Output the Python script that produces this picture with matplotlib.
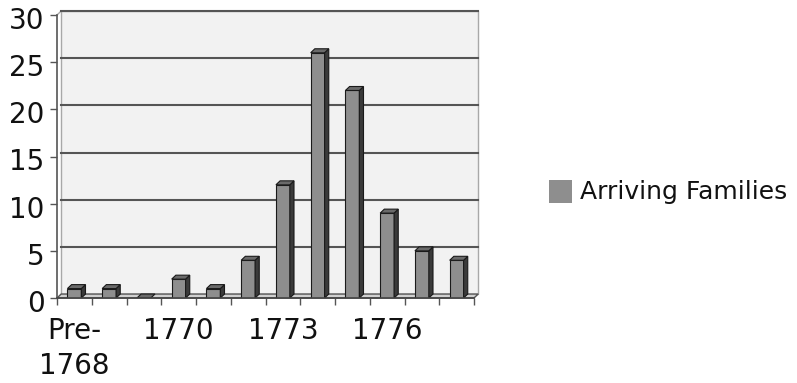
import matplotlib
matplotlib.use("Agg")
import matplotlib.pyplot as plt
from matplotlib.patches import Polygon, Rectangle
from matplotlib.transforms import ScaledTranslation

categories = ["Pre-1768", "1768", "1769", "1770", "1771", "1772",
              "1773", "1774", "1775", "1776", "1777", "1778"]
families = [1, 1, 0, 2, 1, 4, 12, 26, 22, 9, 5, 4]
tick_labels = {0: "Pre-\n1768", 3: "1770", 6: "1773", 9: "1776"}
yticks = [0, 5, 10, 15, 20, 25, 30]
series_name = "Arriving Families"

plt.rcParams["font.family"] = ["DejaVu Sans"]

fig = plt.figure(figsize=(7.97, 3.83), dpi=100)
W, H = 797, 383
ax = fig.add_axes([57 / W, 85 / H, 417 / W, 283 / H])

n = len(categories)
ax.set_xlim(0, n)
ax.set_ylim(0, 30)

# depth of the pseudo-3D effect (data units)
dx, dy = 0.12, 0.42

# back wall
ax.add_patch(Rectangle((dx, dy), n, 30, facecolor="#f2f2f2",
                       edgecolor="#a8a8a8", lw=1.0, zorder=0, clip_on=False))
# left wall edge joining the axis line
ax.plot([0, dx], [30, 30 + dy], color="#a8a8a8", lw=1.0, clip_on=False, zorder=1)
# gridlines on the wall
for v in yticks[1:]:
    ax.plot([dx, n + dx], [v + dy, v + dy], color="#555555", lw=1.5,
            clip_on=False, zorder=1)
# floor
ax.add_patch(Polygon([(0, 0), (n, 0), (n + dx, dy), (dx, dy)], closed=True,
                     facecolor="#d0d0d0", edgecolor="#555555", lw=1.0,
                     zorder=1, clip_on=False))

# bars: front face, right side and top
bw = 0.4
face_c, side_c, top_c = "#8e8e8e", "#3a3a3a", "#6a6a6a"
for i, v in enumerate(families):
    x0 = i + 0.5 - bw / 2
    x1 = x0 + bw
    if v > 0:
        ax.bar(i + 0.5, v, width=bw, color=face_c, edgecolor="#1a1a1a",
               lw=0.8, zorder=3)
        ax.add_patch(Polygon([(x1, 0), (x1 + dx, dy), (x1 + dx, v + dy), (x1, v)],
                             closed=True, facecolor=side_c, edgecolor="#1a1a1a",
                             lw=0.8, zorder=3))
    ax.add_patch(Polygon([(x0, v), (x1, v), (x1 + dx, v + dy), (x0 + dx, v + dy)],
                         closed=True, facecolor=top_c, edgecolor="#1a1a1a",
                         lw=0.8, zorder=3))

# axes styling
for s in ["top", "right", "bottom"]:
    ax.spines[s].set_visible(False)
ax.spines["left"].set_color("#555555")
ax.spines["left"].set_linewidth(1.2)
ax.plot([0, n], [0, 0], color="#444444", lw=1.2, clip_on=False, zorder=4)

ax.set_yticks(yticks)
ax.tick_params(axis="y", length=5, width=1.0, color="#555555",
               labelsize=20, pad=4, labelcolor="#111111")
shift = ScaledTranslation(0, -3 / 100, fig.dpi_scale_trans)
for lbl in ax.get_yticklabels():
    lbl.set_transform(lbl.get_transform() + shift)

ax.set_xticks(range(n + 1), minor=True)
ax.set_xticks([i + 0.5 for i in tick_labels])
ax.set_xticklabels([tick_labels[i] for i in tick_labels], fontsize=20,
                   linespacing=1.3, color="#111111")
ax.tick_params(axis="x", which="major", length=0, pad=14)
ax.tick_params(axis="x", which="minor", length=5, width=1.0, color="#555555",
               direction="out")

# legend
fig.patches.append(Rectangle((549 / W, (383 - 203) / H), 23 / W, 23 / H,
                             transform=fig.transFigure, facecolor=face_c,
                             edgecolor="none"))
fig.text(580 / W, (383 - 192) / H, series_name, fontsize=18, va="center",
         ha="left", color="#111111")

fig.savefig("out.png", dpi=100, facecolor="white")
